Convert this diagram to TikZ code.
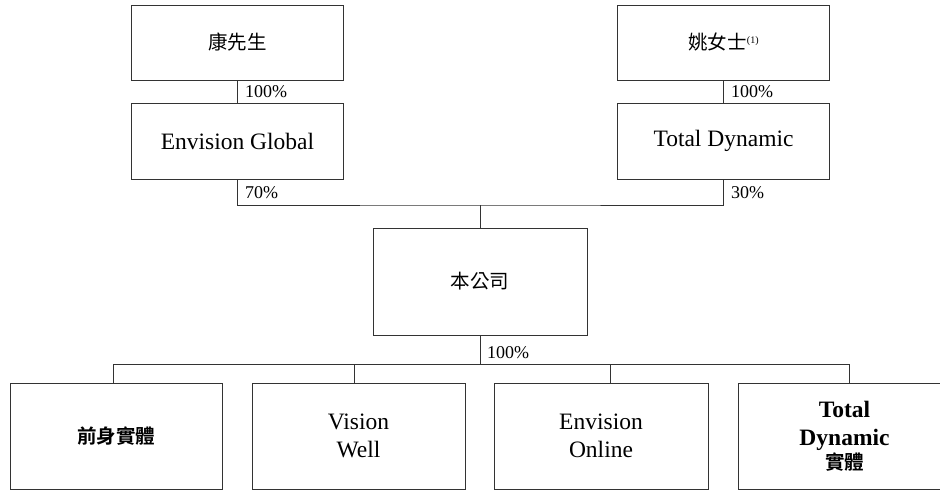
\documentclass[tikz,border=0pt]{standalone}
\usepackage{fontspec}
\setmainfont{Liberation Serif}
\newfontfamily\cjk{Noto Sans CJK TC}[BoldFont={Noto Sans CJK TC Bold}]
\newcommand{\cjksz}{\fontsize{19.5}{28}\selectfont}
\begin{document}
\begin{tikzpicture}[x=1pt,y=-1pt,
  box/.style={draw=black!80, line width=1pt, minimum width=212pt, inner sep=0pt, align=center, font=\fontsize{23.5}{28}\selectfont},
  pct/.style={anchor=west, inner sep=0pt, font=\fontsize{18}{18}\selectfont},
  conn/.style={draw=black!80, line width=1pt}]
\clip (0,0) rectangle (940,490);
\useasboundingbox (0,0) rectangle (940,490);
\node[box, minimum height=75pt] (kang) at (237.5,42.5) {\cjk\cjksz 康先生};
\node[box, minimum height=76pt] (eg) at (237.5,141) {Envision Global};
\node[box, minimum height=75pt] (yao) at (723.5,42.5) {\cjk\cjksz 姚女士\raisebox{0.6ex}{\fontsize{10}{10}\selectfont\rmfamily(1)}};
\node[box, minimum height=76pt] (td) at (723.5,141) {Total Dynamic};
\node[box, minimum height=107pt, minimum width=214pt] (co) at (480,281.5) {\cjk\cjksz 本公司};
\node[box, minimum height=106pt] (s1) at (116,436) {\cjk\cjksz\bfseries 前身實體};
\node[box, minimum height=106pt, minimum width=213pt] (s2) at (358.5,436) {Vision\\Well};
\node[box, minimum height=106pt, minimum width=214pt] (s3) at (601,436) {Envision\\Online};
\node[box, minimum height=106pt, minimum width=213pt] (s4) at (844.5,436) {\textbf{Total}\\\textbf{Dynamic}\\[-4pt]{\cjk\cjksz\bfseries 實體}};
\coordinate (j) at (480,205);
\coordinate (k) at (480,364);
\coordinate (k1) at (113,364);
\coordinate (k2) at (354,364);
\coordinate (k3) at (610,364);
\coordinate (k4) at (849,364);
\path[conn] (kang.south) -- (eg.north);
\path[conn] (yao.south) -- (td.north);
\path[conn] (eg.south) |- (j) -| (td.south);
\path[conn] (j) -- (co.north);
\path[conn] (co.south) -- (k);
\path[conn] (k1) -- (k4);
\path[conn] (k1) -- (k1 |- s1.north);
\path[conn] (k2) -- (k2 |- s2.north);
\path[conn] (k3) -- (k3 |- s3.north);
\path[conn] (k4) -- (k4 |- s4.north);
\node[pct] (p1) at (245,92) {100\%};
\node[pct] (p2) at (245,193) {70\%};
\node[pct] (p3) at (731,92) {100\%};
\node[pct] (p4) at (731,193) {30\%};
\node[pct] (p5) at (487,353) {100\%};
\end{tikzpicture}
\end{document}
